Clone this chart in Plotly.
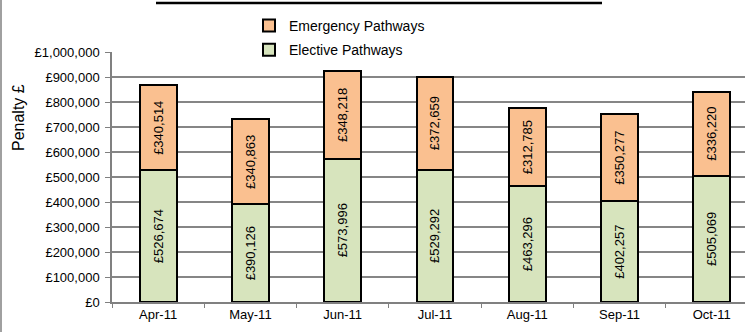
import plotly.graph_objects as go

months = ["Apr-11", "May-11", "Jun-11", "Jul-11", "Aug-11", "Sep-11", "Oct-11"]
elective = [526674, 390126, 573996, 529292, 463296, 402257, 505069]
emergency = [340514, 340863, 348218, 372659, 312785, 350277, 336220]

ELECTIVE_COLOR = "#D7E4BD"
EMERGENCY_COLOR = "#FAC090"
FONT = "Liberation Sans, Arial, sans-serif"

W, H = 745, 332
L, R, T, B = 112, 0, 52, 30
PW, PH = W - L - R, H - T - B


def px_x(x):
    return (x - L) / PW


def px_y(y):
    return (H - B - y) / PH


fig = go.Figure()
fig.add_trace(go.Bar(
    x=months, y=elective, name="Elective Pathways", legendgroup="el",
    legendrank=2,
    marker=dict(color=ELECTIVE_COLOR, line=dict(color="black", width=2)),
    text=[f"£{v:,}" for v in elective], textposition="inside",
    insidetextanchor="middle", textangle=-90,
    textfont=dict(family=FONT, size=13, color="black"),
    width=0.4,
))
fig.add_trace(go.Bar(
    x=months, y=emergency, name="Emergency Pathways", legendgroup="em",
    legendrank=1,
    marker=dict(color=EMERGENCY_COLOR, line=dict(color="black", width=2)),
    text=[f"£{v:,}" for v in emergency], textposition="inside",
    insidetextanchor="middle", textangle=-90,
    textfont=dict(family=FONT, size=13, color="black"),
    width=0.4,
))

fig.update_layout(
    width=W, height=H, barmode="stack",
    margin=dict(l=L, r=R, t=T, b=B, pad=0),
    paper_bgcolor="white", plot_bgcolor="white",
    font=dict(family=FONT, size=12, color="black"),
    showlegend=True,
    legend=dict(
        x=px_x(249), y=px_y(10), xanchor="left", yanchor="top",
        bgcolor="rgba(0,0,0,0)", traceorder="grouped",
        tracegroupgap=3,
        font=dict(family=FONT, size=14, color="black"),
    ),
    xaxis=dict(
        range=[-0.5, 6.36], showgrid=False, showline=True,
        linecolor="#808080", linewidth=1.5,
        ticks="outside", tickson="boundaries", ticklen=4, tickcolor="#808080",
        tickfont=dict(family=FONT, size=13),
    ),
    yaxis=dict(
        range=[0, 1000000], dtick=100000, tickprefix="£", tickformat=",d",
        showgrid=True, gridcolor="#868686", gridwidth=1.5,
        showline=True, linecolor="#808080", linewidth=1.5,
        ticks="outside", ticklen=5, tickcolor="#808080",
        tickfont=dict(family=FONT, size=13),
        ticklabelstandoff=3,
        zeroline=False,
    ),
    shapes=[
        dict(type="rect", xref="paper", yref="paper",
             x0=px_x(212), x1=px_x(480), y0=px_y(60), y1=px_y(44),
             fillcolor="white", line=dict(width=0), layer="between"),
        dict(type="line", xref="paper", yref="paper",
             x0=px_x(156), x1=px_x(602), y0=px_y(3), y1=px_y(3),
             line=dict(color="black", width=2.5)),
        dict(type="line", xref="paper", yref="paper",
             x0=px_x(1), x1=px_x(1), y0=px_y(0), y1=px_y(H),
             line=dict(color="#808080", width=1.5)),
    ],
    annotations=[
        dict(text="Penalty £", xref="paper", yref="paper",
             x=px_x(18), y=px_y(118), textangle=-90, showarrow=False,
             font=dict(family=FONT, size=16, color="black"),
             xanchor="center", yanchor="middle"),
    ],
)

fig.write_html("out.html")
